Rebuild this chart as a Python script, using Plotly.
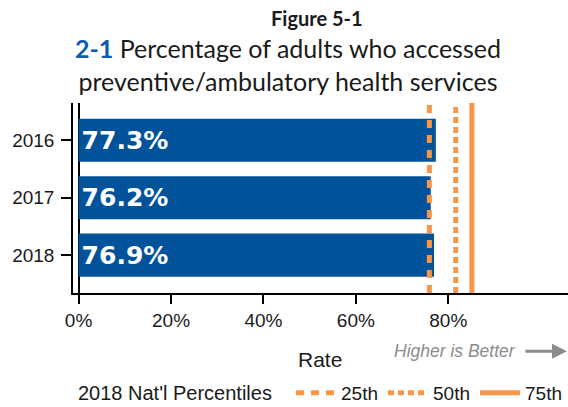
import plotly.graph_objects as go

# Measure 2-1: adults who accessed preventive/ambulatory health services
years = ["2016", "2017", "2018"]
rates = [0.773, 0.762, 0.769]

# 2018 national percentile benchmarks
pct_names = ["25th", "50th", "75th"]
pct_values = [0.759, 0.816, 0.851]
pct_dashes = ["8px,7px", "6px,4px", "solid"]

tick_vals = [0, 0.2, 0.4, 0.6, 0.8]

BLUE = "#00529B"
ORANGE = "#F79646"
GREY = "#8C8C8C"
SANS = "Liberation Sans"

# plot-area geometry in pixels (used to place paper-referenced text)
W, H = 568, 407
L, R, T, B = 73, 0, 103, 113.5
PW = W - L - R
PH = H - T - B


def px(x):
    return (x - L) / PW


def py(y):
    return (H - B - y) / PH


fig = go.Figure()

fig.add_trace(go.Bar(
    y=years,
    x=rates,
    orientation="h",
    width=0.75,
    marker=dict(color=BLUE, line=dict(width=0)),
    text=[f"{v:.1%}" for v in rates],
    textposition="inside",
    insidetextanchor="start",
    textfont=dict(family="DejaVu Sans", size=25, color="white", weight="bold"),
    cliponaxis=False,
    showlegend=False,
    hoverinfo="skip",
))

for name, val, dash in zip(pct_names, pct_values, pct_dashes):
    fig.add_trace(go.Scatter(
        x=[val, val],
        y=[0, 1],
        yaxis="y2",
        mode="lines",
        name=name,
        line=dict(color=ORANGE, width=5, dash=dash),
        hoverinfo="skip",
    ))

fig.update_layout(
    width=W,
    height=H,
    margin=dict(l=L, r=R, t=T, b=B, pad=0, autoexpand=False),
    paper_bgcolor="white",
    plot_bgcolor="white",
    font=dict(family=SANS, size=19, color="#1a1a1a"),
    xaxis=dict(
        range=[-0.0121, 1.059],
        tickvals=tick_vals,
        tickformat=".0%",
        ticks="outside",
        ticklen=9,
        tickwidth=2,
        tickcolor="black",
        showline=True,
        linewidth=2,
        linecolor="black",
        zeroline=True,
        zerolinecolor="black",
        zerolinewidth=1.5,
        showgrid=False,
        tickfont=dict(family=SANS, size=19),
        automargin=False,
        fixedrange=True,
    ),
    yaxis=dict(
        type="category",
        categoryorder="array",
        categoryarray=years,
        range=[2.66, -0.65],
        ticks="outside",
        ticklen=10,
        tickwidth=1.5,
        tickcolor="black",
        showline=True,
        linewidth=1.5,
        linecolor="black",
        showgrid=False,
        zeroline=False,
        tickfont=dict(family=SANS, size=19),
        ticklabelstandoff=3,
        automargin=False,
        fixedrange=True,
    ),
    yaxis2=dict(
        overlaying="y",
        range=[0, 1],
        visible=False,
        fixedrange=True,
    ),
    legend=dict(
        orientation="h",
        yref="container",
        xref="container",
        x=76 / W,
        y=(H - 393) / H,
        xanchor="left",
        yanchor="middle",
        title=dict(text="2018 Nat'l Percentiles  ", side="left",
                   font=dict(family=SANS, size=20)),
        font=dict(family=SANS, size=19),
        itemwidth=40,
        bgcolor="rgba(0,0,0,0)",
        borderwidth=0,
        traceorder="normal",
    ),
    showlegend=True,
)

annotations = [
    dict(
        text="<b>Figure 5-1</b>",
        x=px(317), y=py(18),
        font=dict(family="Lato", size=20, color="#1a1a1a"),
    ),
    dict(
        text="<b><span style='color:#0B5CAD'>2-1</span></b> Percentage of adults who accessed<br>preventive/ambulatory health services",
        x=px(288), y=py(64),
        align="center",
        font=dict(family="Lato", size=25, color="#1a1a1a"),
    ),
    dict(
        text="Rate",
        x=px(320), y=py(360),
        font=dict(family=SANS, size=21, color="#1a1a1a"),
    ),
    dict(
        text="<i>Higher is Better</i>",
        x=px(518), y=py(352),
        xanchor="right",
        font=dict(family=SANS, size=17.5, color=GREY),
    ),
    dict(
        text="",
        x=px(567), y=py(352),
        ax=-43, ay=0,
        showarrow=True,
        arrowhead=2,
        arrowsize=1,
        arrowwidth=3,
        arrowcolor=GREY,
    ),
]
for a in annotations:
    a.setdefault("xref", "paper")
    a.setdefault("yref", "paper")
    a.setdefault("showarrow", False)
    a.setdefault("xanchor", "center")
    a.setdefault("yanchor", "middle")
    fig.add_annotation(**a)

fig.write_html("out.html")
